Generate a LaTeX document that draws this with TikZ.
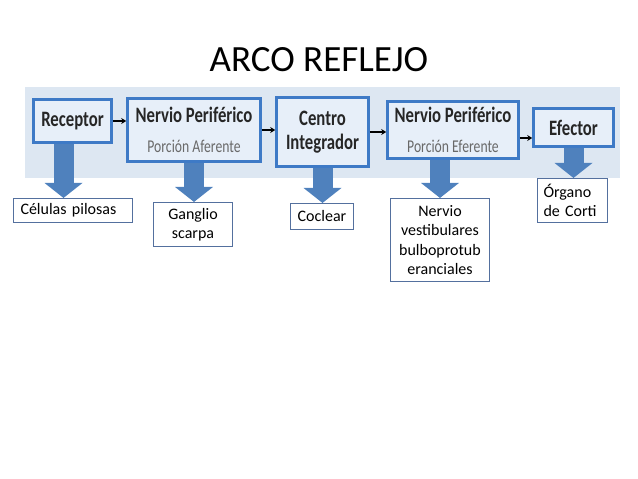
\documentclass[tikz,border=0pt]{standalone}
\usepackage{fontspec}
\setmainfont{Carlito}
\newfontfamily\cajafont[FakeStretch=0.76]{Carlito}
\usetikzlibrary{arrows.meta}
\definecolor{banda}{RGB}{221,231,242}
\definecolor{cajafondo}{RGB}{231,239,249}
\definecolor{cajaborde}{RGB}{62,122,198}
\definecolor{flecha}{RGB}{79,129,189}
\definecolor{notaborde}{RGB}{84,112,158}
\definecolor{subgris}{RGB}{105,105,105}
\tikzset{
  etapa/.style={draw=cajaborde, line width=2.6pt, fill=cajafondo, inner sep=0pt,
    align=center, text=black!85, font=\cajafont\bfseries\fontsize{22}{24}\selectfont},
  nota/.style={draw=notaborde, line width=1.1pt, fill=white, inner sep=0pt,
    align=center, font=\fontsize{16}{19.5}\selectfont},
  bloque/.style={draw=flecha, line width=20pt, -{Triangle[width=38pt,length=15pt,line width=0pt]}},
  paso/.style={draw=black, line width=1.2pt, -{Stealth[length=5pt,width=6pt]}}
}
\begin{document}
\begin{tikzpicture}[x=1pt,y=-1pt]
		\useasboundingbox (0,0) rectangle (638,479);
		\node[anchor=base, font=\fontsize{37}{40}\selectfont] (titulo) at (319,71) {ARCO REFLEJO};
		\fill[banda] (25,87) rectangle (620,178);
		% cadena del arco
		\node[etapa, minimum width=78pt, minimum height=43pt] (rec) at (72.5,121) {Receptor};
		\node[etapa, minimum width=133pt, minimum height=63pt, font=\cajafont\bfseries\fontsize{22}{30}\selectfont] (afe) at (194,130)
			{Nervio Periférico\\{\mdseries\color{subgris}\fontsize{18}{30}\selectfont Porción Aferente}};
		\node[etapa, minimum width=92pt, minimum height=69pt] (cen) at (322.5,132) {Centro\\Integrador};
		\node[etapa, minimum width=131pt, minimum height=57pt, font=\cajafont\bfseries\fontsize{22}{30}\selectfont] (efe) at (453,130)
			{Nervio Periférico\\{\mdseries\color{subgris}\fontsize{18}{30}\selectfont Porción Eferente}};
		\node[etapa, minimum width=80pt, minimum height=38pt] (eft) at (573.5,127.5) {Efector};
		\draw[paso] (rec.east) -- (rec.east -| afe.west);
		\draw[paso] (afe.east) -- (afe.east -| cen.west);
		\draw[paso] (cen.east) -- (cen.east -| efe.west);
		\draw[paso] ([yshift=-8pt]efe.east) -- ([yshift=-8pt]efe.east -| eft.west);
		% notas
		\node[nota, minimum width=119pt, minimum height=24pt, text width=105pt, align=left] (cel) at (73,210.5) {Células pilosas};
		\node[nota, minimum width=79pt, minimum height=44pt] (gan) at (193,224.5) {Ganglio\\scarpa};
		\node[nota, minimum width=63pt, minimum height=26pt] (coc) at (322,216.5) {Coclear};
		\node[nota, minimum width=99pt, minimum height=83pt] (ner) at (440,240) {Nervio\\vestibulares\\bulboprotub\\eranciales};
		\node[nota, minimum width=70pt, minimum height=44pt, text width=58pt, align=left] (org) at (572.5,200.5) {Órgano\\de Corti};
		\draw[bloque] ([xshift=-9pt]rec.south) -- ([xshift=-9pt]rec.south |- cel.north);
		\draw[bloque] (afe.south) -- (afe.south |- gan.north);
		\draw[bloque] (cen.south) -- (cen.south |- coc.north);
		\draw[bloque] (efe.south -| ner.north) -- (ner.north);
		\draw[bloque] (eft.south) -- (eft.south |- org.north);
	\end{tikzpicture}
\end{document}
